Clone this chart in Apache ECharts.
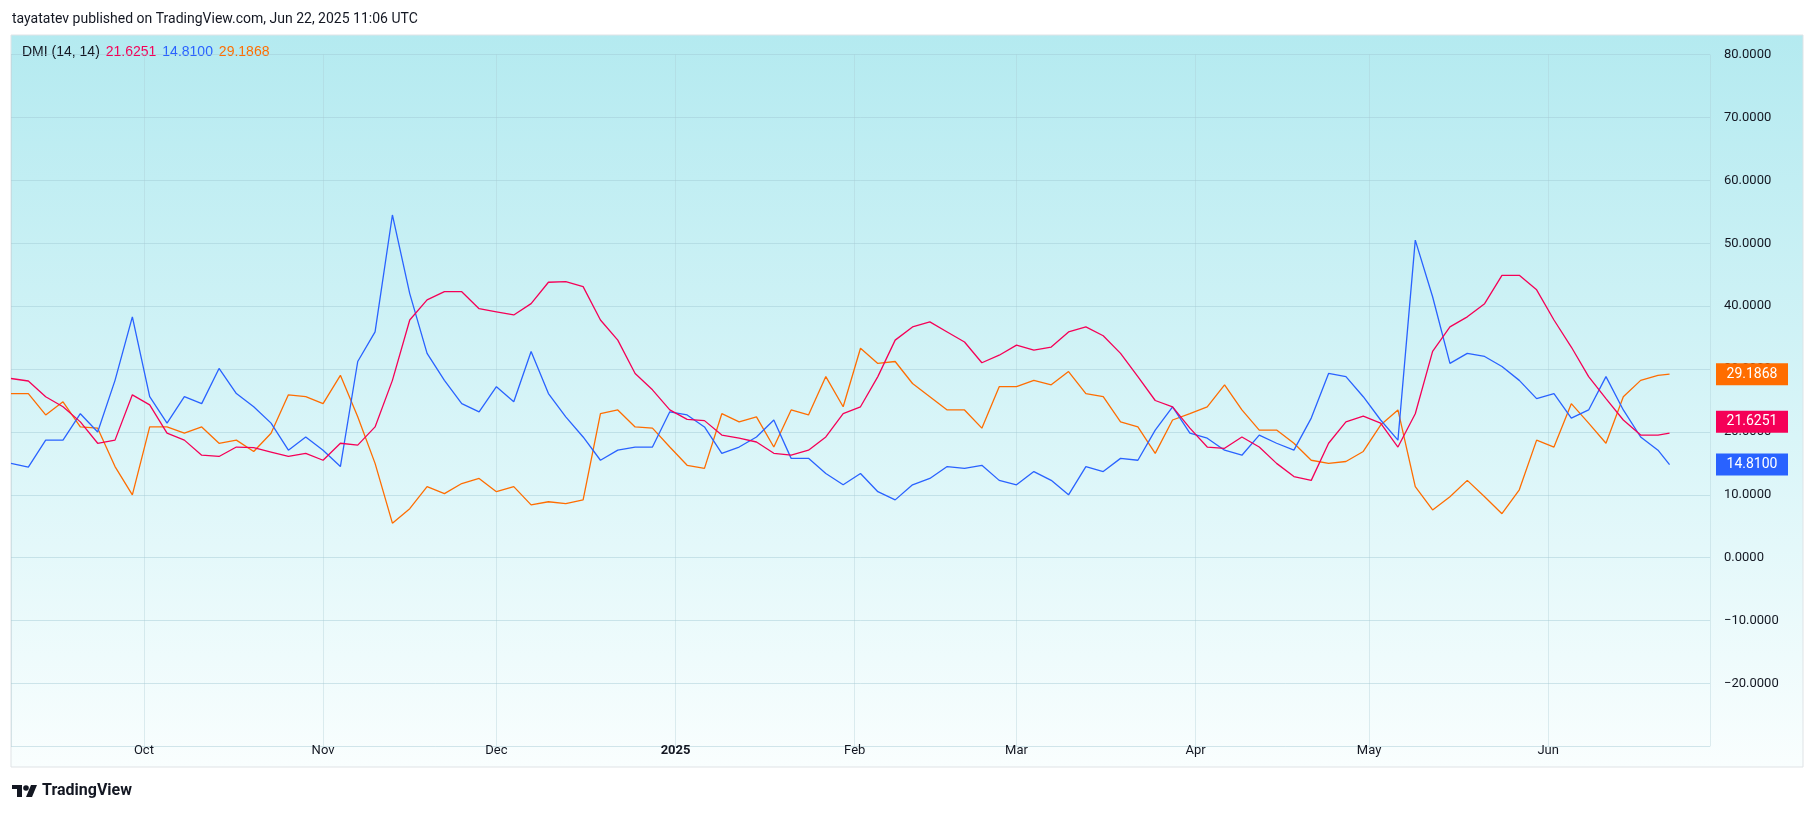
<!DOCTYPE html>
<html><head><meta charset="utf-8">
<script src="https://cdn.jsdelivr.net/npm/echarts@6/dist/echarts.min.js"></script>
<style>html,body{margin:0;padding:0;background:#fff}#c{width:1815px;height:814px}</style>
</head><body><div id="c"></div>
<script>
// day offsets from 2024-09-08 (sampled every 3 days, last = Jun 22)
const dayOffsets = [0,3,6,9,12,15,18,21,24,27,30,33,36,39,42,45,48,51,54,57,60,63,66,69,72,75,
78,81,84,87,90,93,96,99,102,105,108,111,114,117,120,123,126,129,132,135,138,141,144,147,150,153,
156,159,162,165,168,171,174,177,180,183,186,189,192,195,198,201,204,207,210,213,216,219,222,225,228,
231,234,237,240,243,246,249,252,255,258,261,264,267,270,273,276,279,282,285,287];
const adx = [28.5,28.1,25.6,24.0,21.6,18.2,18.7,25.9,24.3,19.8,18.7,16.3,16.1,17.6,17.5,16.8,16.1,16.6,15.5,18.2,17.9,20.8,28.2,37.8,41.0,42.3,
42.3,39.6,39.1,38.6,40.4,43.8,43.9,43.1,37.8,34.6,29.3,26.7,23.5,22.0,21.8,19.5,19.0,18.4,16.6,16.3,17.1,19.2,22.9,24.0,28.8,34.6,
36.7,37.5,35.9,34.3,31.0,32.2,33.8,33.0,33.5,35.9,36.7,35.3,32.5,28.8,25.0,24.0,20.6,17.6,17.4,19.2,17.6,15.0,12.9,12.3,18.2,
21.6,22.5,21.4,17.6,22.9,32.8,36.7,38.3,40.4,44.9,44.9,42.6,37.8,33.5,28.8,25.3,21.9,19.5,19.5,19.8,21.6251];
const plusDI = [15.0,14.4,18.7,18.7,22.9,20.0,28.2,38.3,25.6,21.4,25.6,24.5,30.1,26.1,24.0,21.4,17.1,19.2,17.1,14.5,31.2,35.9,54.5,42.0,32.5,28.2,
24.5,23.2,27.2,24.8,32.8,26.1,22.4,19.2,15.5,17.1,17.6,17.6,23.2,22.7,20.8,16.6,17.6,19.2,21.9,15.8,15.8,13.4,11.6,13.4,10.5,9.2,
11.6,12.6,14.5,14.2,14.7,12.3,11.6,13.7,12.3,10.0,14.5,13.7,15.8,15.5,20.3,24.0,19.8,19.0,17.1,16.3,19.5,18.2,17.1,22.2,29.3,
28.8,25.6,21.9,18.7,50.5,41.5,30.9,32.5,32.0,30.4,28.2,25.3,26.1,22.2,23.5,28.8,23.5,19.2,17.1,14.81];
const minusDI = [26.1,26.1,22.7,24.8,20.8,20.6,14.5,10.0,20.8,20.8,19.8,20.8,18.2,18.7,16.9,19.8,25.9,25.6,24.5,29.0,22.4,15.0,5.5,7.8,11.3,10.2,
11.8,12.6,10.5,11.3,8.4,8.9,8.6,9.2,22.9,23.5,20.8,20.6,17.6,14.7,14.2,22.9,21.6,22.4,17.6,23.5,22.7,28.8,24.0,33.3,30.9,31.2,
27.7,25.6,23.5,23.5,20.6,27.2,27.2,28.2,27.5,29.6,26.1,25.6,21.6,20.8,16.6,21.9,22.9,24.0,27.5,23.5,20.3,20.3,18.2,15.5,15.0,
15.3,16.9,21.1,23.5,11.3,7.6,9.7,12.3,9.7,7.0,10.8,18.7,17.6,24.5,21.4,18.2,25.6,28.2,29.0,29.1868];
const yTicks = [-20,-10,0,10,20,30,40,50,60,70,80];

const base = Date.UTC(2024,8,8);
const DAY = 86400000;
const pts = arr => arr.map((v,i)=>[base + dayOffsets[i]*DAY, v]);
const xMin = base, xMax = Date.UTC(2025,5,29);
const C_ADX='#f50057', C_P='#2962ff', C_M='#ff6d00';
const MONTHS=['Jan','Feb','Mar','Apr','May','Jun','Jul','Aug','Sep','Oct','Nov','Dec'];
const last = a => a[a.length-1];

function badge(color, v){
  return {symbol:'rect', symbolSize:[72,22], symbolOffset:[42,0], coord:[xMax, v], value:v.toFixed(4),
    itemStyle:{color}, label:{show:true, color:'#fff', fontSize:14, fontFamily:'Roboto, Arial', formatter:v.toFixed(4)}};
}

const chart = echarts.init(document.getElementById('c'));
chart.setOption({
  animation:false,
  backgroundColor:'#fff',
  graphic:[
    {type:'rect', shape:{x:11,y:35,width:1792,height:732}, z:-10,
     style:{fill:new echarts.graphic.LinearGradient(0,0,0,1,[{offset:0,color:'#b4eaf0'},{offset:0.55,color:'#d9f5f8'},{offset:1,color:'#f9fefe'}]), stroke:'#dfe3e6', lineWidth:1}},
    {type:'text', left:12, top:12, style:{text:'tayatatev published on TradingView.com, Jun 22, 2025 11:06 UTC', fontSize:14, fill:'#131722', fontFamily:'Roboto, Arial'}},
    {type:'text', left:22, top:45, style:{rich:{a:{fontSize:14,fill:'#131722'},r:{fontSize:14,fill:C_ADX},b:{fontSize:14,fill:C_P},o:{fontSize:14,fill:C_M}},
      text:'{a|DMI (14, 14)}  {r|'+last(adx).toFixed(4)+'}  {b|'+last(plusDI).toFixed(4)+'}  {o|'+last(minusDI).toFixed(4)+'}', fontFamily:'Roboto, Arial'}},
    {type:'rect', shape:{x:12,y:785,width:10,height:4}, style:{fill:'#131722'}},
    {type:'rect', shape:{x:17,y:785,width:5,height:12}, style:{fill:'#131722'}},
    {type:'circle', shape:{cx:26,cy:788,r:2.8}, style:{fill:'#131722'}},
    {type:'polygon', shape:{points:[[31,785],[37,785],[32,797],[26,797]]}, style:{fill:'#131722'}},
    {type:'text', left:42, top:783, style:{text:'TradingView', fontSize:16, fontWeight:'bold', fill:'#131722', fontFamily:'Roboto, Arial'}}
  ],
  grid:{left:11, right:105, top:54.6, bottom:67.6},
  xAxis:{type:'time', min:xMin, max:xMax, minInterval:27*DAY, maxInterval:32*DAY,
    axisLine:{show:false}, axisTick:{show:false},
    splitLine:{show:true, lineStyle:{color:'rgba(170,200,210,0.35)', width:1}},
    axisLabel:{margin:-2, fontSize:13, color:'#131722', fontFamily:'Roboto, Arial',
      formatter:function(v){const d=new Date(v); return d.getUTCMonth()===0?'{y|'+d.getUTCFullYear()+'}':MONTHS[d.getUTCMonth()];},
      rich:{y:{fontWeight:'bold',fontSize:13,color:'#131722'}}}},
  yAxis:{type:'value', position:'right', min:-30, max:80, interval:10,
    axisLine:{show:false}, axisTick:{show:false},
    splitLine:{lineStyle:{color:'rgba(160,200,210,0.45)', width:1}},
    axisLabel:{margin:14, fontSize:13, color:'#131722', fontFamily:'Roboto, Arial',
      formatter:v=> yTicks.includes(v)? v.toFixed(4).replace('-','\u2212') : ''}},
  series:[
    {name:'+DI', type:'line', data:pts(plusDI), showSymbol:false, lineStyle:{color:C_P,width:1.3}, itemStyle:{color:C_P}, z:3,
     markPoint:{silent:true,data:[badge(C_P,last(plusDI))]}},
    {name:'-DI', type:'line', data:pts(minusDI), showSymbol:false, lineStyle:{color:C_M,width:1.3}, itemStyle:{color:C_M}, z:2,
     markPoint:{silent:true,data:[badge(C_M,last(minusDI))]}},
    {name:'ADX', type:'line', data:pts(adx), showSymbol:false, lineStyle:{color:C_ADX,width:1.3}, itemStyle:{color:C_ADX}, z:4,
     markPoint:{silent:true,data:[badge(C_ADX,last(adx))]}}
  ]
});
</script></body></html>
